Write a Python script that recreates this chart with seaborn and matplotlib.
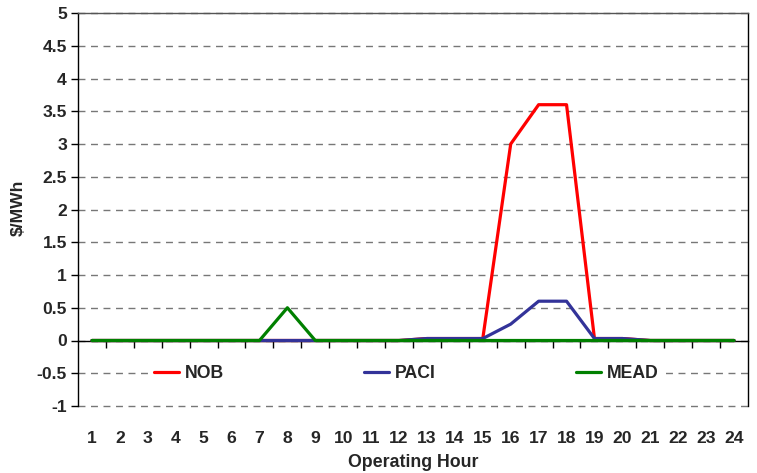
import matplotlib
matplotlib.use("Agg")
import matplotlib.pyplot as plt
import matplotlib.ticker as mticker
import seaborn as sns
import pandas as pd
import numpy as np

hours = list(range(1, 25))
nob = [0, 0, 0, 0, 0, 0, 0, 0, 0, 0, 0, 0, 0.03, 0.03, 0.03, 3.0, 3.6, 3.6, 0.03, 0.03, 0, 0, 0, 0]
paci = [0, 0, 0, 0, 0, 0, 0, 0, 0, 0, 0, 0, 0.03, 0.03, 0.03, 0.25, 0.6, 0.6, 0.03, 0.03, 0, 0, 0, 0]
mead = [0, 0, 0, 0, 0, 0, 0, 0.5, 0, 0, 0, 0, 0, 0, 0, 0, 0, 0, 0, 0, 0, 0, 0, 0]
series_names = ["NOB", "PACI", "MEAD"]
colors = ["#FF0000", "#333399", "#008000"]

df = pd.DataFrame({
    "hour": hours * 3,
    "value": nob + paci + mead,
    "series": ["NOB"] * 24 + ["PACI"] * 24 + ["MEAD"] * 24,
})

sns.set_style("white")
plt.rcParams['font.family'] = ['Liberation Sans', 'DejaVu Sans']

fig = plt.figure(figsize=(7.57, 4.73), dpi=100)
ax = fig.add_axes([78/757, 1 - 406/473, (748-78)/757, (406-13)/473])

sns.lineplot(data=df, x="hour", y="value", hue="series", hue_order=series_names,
             palette=colors, linewidth=2.3, ax=ax, zorder=3)

ax.set_xlim(0.5, 24.5)
ax.set_ylim(-1, 5)

# y axis
ax.yaxis.set_major_locator(mticker.MultipleLocator(0.5))
ax.yaxis.set_major_formatter(mticker.FuncFormatter(lambda v, p: f"{v:g}"))
ax.grid(axis="y", color="#777777", linestyle=(0, (5, 4)), linewidth=1.0, zorder=0)
ax.grid(axis="x", visible=False)
ax.tick_params(axis="y", which="major", direction="out", length=5, width=1,
               color="black", left=True, labelsize=12.6, pad=3)

# x axis at zero
ax.spines["bottom"].set_position(("data", 0))
ax.spines["bottom"].set_color("black")
ax.spines["bottom"].set_linewidth(1.0)
ax.spines["bottom"].set_zorder(2)
ax.spines["top"].set_color("#555555")
ax.spines["top"].set_linewidth(1.0)
ax.spines["left"].set_color("black")
ax.spines["right"].set_color("black")
ax.spines["left"].set_linewidth(1.0)
ax.spines["right"].set_linewidth(1.0)

ax.set_xticks(hours)
ax.set_xticklabels([str(h) for h in hours])
ax.xaxis.set_minor_locator(mticker.FixedLocator(np.arange(1.5, 24.5, 1)))
ax.tick_params(axis="x", which="major", length=0, labelsize=12.6, pad=65)
ax.tick_params(axis="x", which="minor", direction="out", length=5, width=1,
               color="black", bottom=True)

for lab in ax.get_xticklabels() + ax.get_yticklabels():
    lab.set_fontweight("bold")

for gl in ax.get_ygridlines():
    gl.set_clip_on(False)

ax.set_xlabel("")
ax.set_ylabel("")
fig.text(413/757, 1 - 462/473, "Operating Hour", ha="center", va="center",
         fontsize=12.8, fontweight="bold")
fig.text(18/757, 1 - 208/473, r"\$/MWh", ha="center", va="center", rotation=90,
         fontsize=12.6, fontweight="bold")

# legend
handles, labels = ax.get_legend_handles_labels()
leg = ax.legend(handles, labels, ncol=3, loc="center", bbox_to_anchor=(0.49, 0.0833),
                frameon=True, fancybox=False, framealpha=1.0, edgecolor="white",
                facecolor="white", handlelength=1.4, handletextpad=0.35,
                columnspacing=7.95, borderpad=0.3, borderaxespad=0,
                prop={"size": 12.7, "weight": "bold"})
leg.set_zorder(2.5)
for line in leg.get_lines():
    line.set_linewidth(2.3)

fig.savefig("out.png", dpi=100)
